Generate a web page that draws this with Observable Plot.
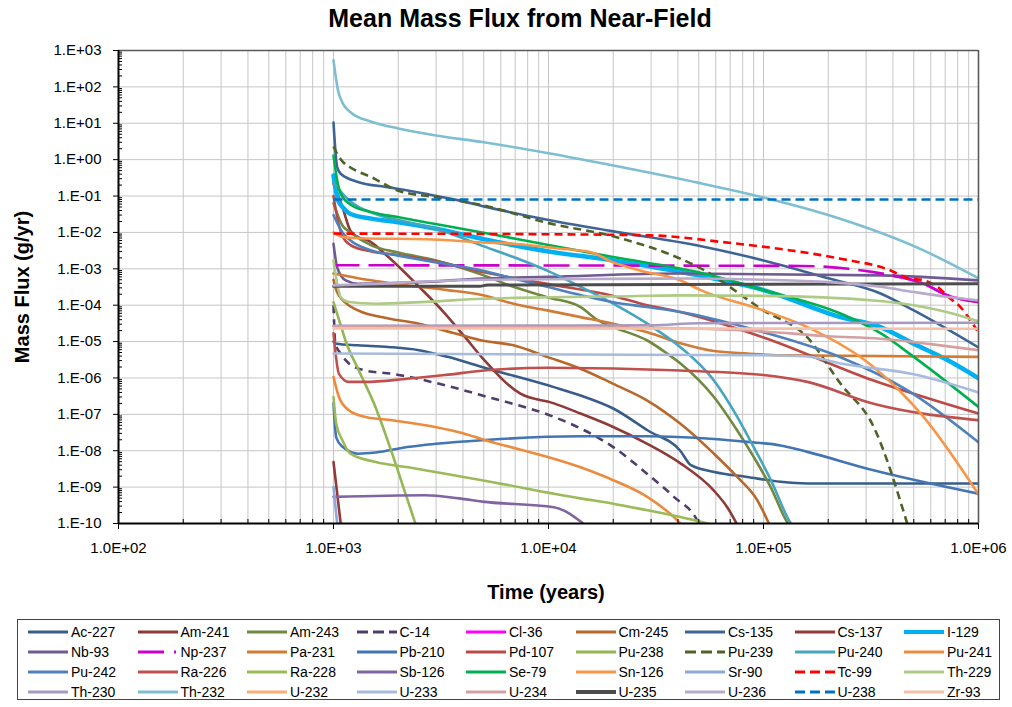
<!DOCTYPE html>
<html><head><meta charset="utf-8">
<script src="https://cdn.jsdelivr.net/npm/d3@7"></script>
<script src="https://cdn.jsdelivr.net/npm/@observablehq/plot@0.6"></script>
<style>
body{margin:0;background:#fff;}
#wrap{position:relative;width:1012px;height:707px;font-family:"Liberation Sans",Arial,sans-serif;color:#000;background:#fff;overflow:hidden;}
#chart{position:absolute;left:0;top:0;}
#title{position:absolute;left:0;top:3px;width:1040px;text-align:center;font-weight:bold;font-size:25px;line-height:30px;}
#xlab{position:absolute;left:446px;top:580px;width:200px;text-align:center;font-weight:bold;font-size:20px;line-height:24px;}
#ylab{position:absolute;left:-78px;top:275px;width:200px;text-align:center;font-weight:bold;font-size:20px;line-height:24px;transform:rotate(-90deg);}
#legend{position:absolute;left:17px;top:619px;width:983px;height:81px;box-sizing:border-box;border:1px solid #444;}
.li{position:absolute;height:20px;font-size:14px;line-height:20px;white-space:nowrap;}
.li svg{position:absolute;left:0;top:0;}
.li span{position:absolute;left:44px;top:0;}
</style></head><body>
<div id="wrap">
<div id="chart"></div>
<div id="title">Mean Mass Flux from Near-Field</div>
<div id="xlab">Time (years)</div>
<div id="ylab">Mass Flux (g/yr)</div>
<div id="legend"></div>
</div>
<script>
// ---- data: [time (years), mass flux (g/yr)] ----
const Ac227 = [[1000,1.0e-5],[1030,8.7e-6],[1300,7.9e-6],[1800,7.1e-6],[2500,5.8e-6],[3400,3.8e-6],[4900,2.0e-6],[10600,5.6e-7],[14100,3.3e-7],[20000,1.45e-7],[29000,3.6e-8],[41000,1.0e-8],[46000,4.0e-9],[59000,2.6e-9],[84000,1.9e-9],[120000,1.4e-9],[160000,1.26e-9],[1e6,1.26e-9]];
const Am241 = [[1000,0.22],[1100,0.05],[1200,0.011],[1300,7.4e-3],[1450,6e-3],[1800,2.1e-3],[2500,3.2e-4],[3300,5.9e-5],[4100,1.3e-5],[5000,3.2e-6],[7400,3.7e-7],[10600,2e-7],[14100,1.05e-7],[20000,4.5e-8],[28800,1.55e-8],[41100,4.5e-9],[58800,8e-10],[67800,2.8e-10],[75000,1e-10]];
const Am243 = [[1000,0.063],[1100,0.0155],[1200,0.01],[1500,4.4e-3],[2000,2.8e-3],[3000,1.7e-3],[5000,6.6e-4],[6870,3.2e-4],[9860,1.66e-4],[14100,8.9e-5],[17000,3.8e-5],[20000,2.5e-5],[28800,1.07e-5],[35600,4.7e-6],[41100,2.5e-6],[58800,3e-7],[75500,3.6e-8],[90000,6.8e-9],[108000,1e-9],[127000,1.26e-10],[130000,1e-10]];
const C14 = [[1000,1e-4],[1020,8.7e-6],[1080,4.7e-6],[1180,2.5e-6],[1410,1.6e-6],[1880,1.3e-6],[2680,8.5e-7],[3830,5e-7],[4920,3.3e-7],[10600,8.5e-8],[14100,4.1e-8],[20000,1.26e-8],[28800,2.3e-9],[38300,5.4e-10],[49000,1.26e-10],[50000,1e-10]];
const Cl36 = [[400000,6.5e-4],[557000,3.9e-4],[710000,1.9e-4],[1e6,1.25e-4]];
const Cm245 = [[1000,5e-4],[1030,2.6e-4],[1150,1.1e-4],[1300,7.2e-5],[1800,4.3e-5],[2500,3.1e-5],[3300,2e-5],[4900,1.07e-5],[6870,7.9e-6],[9860,3.8e-6],[14100,1.8e-6],[20000,6.9e-7],[28800,2.4e-7],[41100,5.5e-8],[58800,8.3e-9],[75500,1.9e-9],[93500,4.4e-10],[106000,1e-10]];
const Cs135 = [[1000,10.5],[1040,0.62],[1080,0.41],[1310,0.24],[1780,0.176],[2680,0.115],[3830,0.076],[5000,0.052],[10000,0.022],[20000,0.0107],[50000,4.3e-3],[100000,1.7e-3],[200000,5.5e-4],[350000,2.1e-4],[500000,7.2e-5],[1e6,6.9e-6]];
const Cs137 = [[1000,4.9e-9],[1080,1e-10]];
const I129 = [[1000,0.37],[1050,0.076],[1100,0.05],[1200,0.032],[1500,0.024],[2000,0.019],[3000,0.0126],[5000,6.5e-3],[10000,3e-3],[20000,1.7e-3],[50000,6.6e-4],[100000,2.6e-4],[228000,4.7e-5],[350000,2.5e-5],[500000,8.7e-6],[710000,3.2e-6],[1e6,9.8e-7]];
const Nb93 = [[1000,4.9e-3],[1040,1.1e-3],[1140,4.8e-4],[1300,3.9e-4],[2500,4.3e-4],[4900,5.4e-4],[10000,6e-4],[41000,7.4e-4],[350000,6.6e-4],[1e6,4.8e-4]];
const Np237 = [[1000,1.25e-3],[150000,1.2e-3],[250000,1.0e-3],[325000,8.1e-4],[400000,6.5e-4],[557000,3.9e-4],[710000,1.9e-4],[1e6,1.2e-4]];
const Pa231 = [[1000,7.4e-4],[1300,5.5e-4],[2500,3.2e-4],[3400,2.6e-4],[4900,1.9e-4],[6870,1.1e-4],[9860,7.2e-5],[14100,4.7e-5],[20000,3.1e-5],[28800,1.8e-5],[41100,9e-6],[58800,5.5e-6],[84000,4.7e-6],[120000,4.2e-6],[1e6,3.8e-6]];
const Pb210 = [[1000,2e-7],[1030,2.3e-8],[1100,1.3e-8],[1300,8.3e-9],[1570,8.9e-9],[2200,1.26e-8],[3000,1.55e-8],[4900,1.95e-8],[14100,2.5e-8],[28800,2.5e-8],[58800,2.1e-8],[84000,1.75e-8],[120000,1.4e-8],[160000,9.3e-9],[325000,2.9e-9],[1e6,6.6e-10]];
const Pd107 = [[1000,0.1],[1050,0.02],[1100,8e-3],[1200,4.5e-3],[1500,3e-3],[2000,2.4e-3],[3000,1.6e-3],[5000,8e-4],[10000,3.8e-4],[20000,1.8e-4],[27000,1.1e-4],[41000,6.5e-5],[100000,1.3e-5],[325000,8.5e-7],[1e6,1.05e-7]];
const Pu238 = [[1000,1.2e-4],[1100,2e-5],[1137,1.07e-5],[1312,1.6e-6],[1567,1.6e-7],[1875,8.3e-9],[2162,6.6e-10],[2404,1e-10]];
const Pu239 = [[1000,2.3],[1050,1.3],[1100,0.9],[1200,0.61],[1500,0.33],[2000,0.14],[3000,0.093],[5000,0.055],[10000,0.018],[20000,7.8e-3],[41000,1.9e-3],[50000,1.1e-3],[100000,7.2e-5],[160000,1.3e-5],[228000,7e-7],[325000,4.6e-8],[466000,1e-10]];
const Pu240 = [[1000,0.24],[1140,0.093],[1570,0.032],[2230,0.019],[2980,0.0126],[5090,4e-3],[6870,2.1e-3],[9860,8.9e-4],[14100,3.2e-4],[20000,1.1e-4],[28800,3.1e-5],[41100,7e-6],[58800,8.5e-7],[75500,8.5e-8],[90000,1.26e-8],[108000,1.6e-9],[131000,1.26e-10],[134000,1e-10]];
const Pu241 = [[1000,1.07e-6],[1060,3e-7],[1178,1.3e-7],[1410,8.5e-8],[1875,6.9e-8],[2680,5e-8],[3830,3.2e-8],[5090,1.95e-8],[14100,3.5e-9],[20000,1.55e-9],[28800,5.4e-10],[38300,1.5e-10],[41100,1e-10]];
const Pu242 = [[1000,0.03],[1100,0.01],[1200,6e-3],[1500,3.2e-3],[2000,2.3e-3],[3000,1.5e-3],[4900,9e-4],[6870,5.4e-4],[9860,3.2e-4],[14100,1.9e-4],[20000,1.2e-4],[28800,8.9e-5],[41100,6.5e-5],[100000,1.8e-5],[228000,3.7e-6],[466000,4.6e-7],[1e6,1.7e-8]];
const Ra226 = [[1000,1.7e-5],[1060,1.3e-6],[1180,7.8e-7],[1400,7.8e-7],[2200,9.5e-7],[3300,1.2e-6],[5000,1.6e-6],[10000,1.9e-6],[41000,1.6e-6],[100000,1.2e-6],[160000,7.8e-7],[325000,1.95e-7],[1e6,6.9e-8]];
const Ra228 = [[1000,3e-7],[1030,5.5e-8],[1100,1.95e-8],[1200,8.3e-9],[1570,4.9e-9],[2230,3.5e-9],[2980,2.6e-9],[4900,1.55e-9],[14100,4.9e-10],[20000,3.5e-10],[28800,2.3e-10],[41100,1.5e-10],[55000,1e-10]];
const Sb126 = [[1000,5.4e-10],[2680,6e-10],[3830,4.9e-10],[4920,4e-10],[10600,2.8e-10],[14500,1e-10]];
const Se79 = [[1000,1.3],[1040,0.27],[1080,0.115],[1220,0.055],[1510,0.036],[2010,0.026],[2980,0.017],[4920,0.010],[10000,4.5e-3],[20000,2.1e-3],[50000,8e-4],[100000,2.6e-4],[228000,5.9e-5],[350000,1.7e-5],[500000,3.8e-6],[1e6,1.6e-7]];
const Sn126 = [[1000,1.0e-2],[1100,7.5e-3],[1300,6.9e-3],[2700,6.5e-3],[5000,5.3e-3],[6870,4.9e-3],[11700,3.5e-3],[15600,2.9e-3],[20000,1.5e-3],[26800,8.9e-4],[41100,4.8e-4],[51000,2.6e-4],[100000,7.2e-5],[160000,2.5e-5],[325000,2e-6],[555000,8.5e-8],[1e6,6.3e-10]];
const Sr90 = [[1000,1e-9],[1040,1e-10]];
const Tc99 = [[1000,9.3e-3],[10000,8.9e-3],[30000,8.3e-3],[65000,5.4e-3],[134000,3.2e-3],[228000,1.9e-3],[390000,9e-4],[466000,5.6e-4],[557000,4.8e-4],[643000,3.2e-4],[741000,1.5e-4],[825000,8.9e-5],[885000,5.2e-5],[986000,2e-5]];
const Th229 = [[1000,1.7e-3],[1040,3.9e-4],[1080,1.65e-4],[1180,1.23e-4],[1570,1.1e-4],[2680,1.23e-4],[4920,1.5e-4],[10000,1.66e-4],[20000,1.74e-4],[41000,1.86e-4],[100000,1.8e-4],[325000,1.35e-4],[500000,1e-4],[710000,6.5e-5],[1e6,3.6e-5]];
const Th230 = [[1000,2.7e-5],[30000,2.8e-5],[50000,3.2e-5],[1e6,3.3e-5]];
const Th232 = [[1000,540],[1050,79],[1100,37],[1200,20],[1500,11],[2000,7.2],[3000,4.6],[5000,3.0],[10000,1.5],[20000,0.69],[50000,0.23],[100000,0.091],[200000,0.030],[555000,3.2e-3],[1e6,5.5e-4]];
const U232 = [];
const U233 = [[1000,4.7e-6],[100000,4.2e-6],[160000,3.9e-6],[228000,2.5e-6],[500000,1.26e-6],[1e6,4e-7]];
const U234 = [[1000,2.6e-5],[30000,2.4e-5],[100000,1.9e-5],[200000,1.4e-5],[350000,1.2e-5],[600000,8.5e-6],[1e6,5.8e-6]];
const U235 = [[1000,3.3e-4],[4800,3.3e-4],[5200,3.6e-4],[1e6,3.9e-4]];
const U236 = [[1000,3.5e-4],[1300,3.7e-4],[4900,5e-4],[20000,5.3e-4],[41000,5.4e-4],[100000,5e-4],[200000,4.3e-4],[350000,3.2e-4],[500000,2.3e-4],[710000,1.7e-4],[1e6,1.35e-4]];
const U238 = [[1000,0.08],[1e6,0.08]];
const Zr93 = [[1000,2.3e-5],[1e6,2.25e-5]];

const xTicks = [1e2, 1e3, 1e4, 1e5, 1e6];
const yTicks = [1e-10,1e-9,1e-8,1e-7,1e-6,1e-5,1e-4,1e-3,1e-2,1e-1,1e0,1e1,1e2,1e3];

// ---- series (name, data, style) ----
const series = [
  {name:"Ac-227", data:Ac227, color:"#385D8A"},
  {name:"Am-241", data:Am241, color:"#8E3B38"},
  {name:"Am-243", data:Am243, color:"#71893F"},
  {name:"C-14",   data:C14,   color:"#4F3D6E", dash:"8,6", ldash:"11,5"},
  {name:"Cl-36",  data:Cl36,  color:"#FF00FF"},
  {name:"Cm-245", data:Cm245, color:"#B8682A"},
  {name:"Cs-135", data:Cs135, color:"#3E6496"},
  {name:"Cs-137", data:Cs137, color:"#93393A"},
  {name:"I-129",  data:I129,  color:"#00B0F0", width:4.5},
  {name:"Nb-93",  data:Nb93,  color:"#6F5A92"},
  {name:"Np-237", data:Np237, color:"#CC00CC", dash:"26,9", ldash:"26,10,2,10"},
  {name:"Pa-231", data:Pa231, color:"#D27B35"},
  {name:"Pb-210", data:Pb210, color:"#4374B3"},
  {name:"Pd-107", data:Pd107, color:"#BB4A47"},
  {name:"Pu-238", data:Pu238, color:"#94B653"},
  {name:"Pu-239", data:Pu239, color:"#4F6228", dash:"8,5", ldash:"11,5"},
  {name:"Pu-240", data:Pu240, color:"#45A5C0"},
  {name:"Pu-241", data:Pu241, color:"#EE8A3C"},
  {name:"Pu-242", data:Pu242, color:"#4F81BD"},
  {name:"Ra-226", data:Ra226, color:"#C0504D"},
  {name:"Ra-228", data:Ra228, color:"#9BBB59"},
  {name:"Sb-126", data:Sb126, color:"#8064A2"},
  {name:"Se-79",  data:Se79,  color:"#00B050"},
  {name:"Sn-126", data:Sn126, color:"#F79646"},
  {name:"Sr-90",  data:Sr90,  color:"#8EA9D6"},
  {name:"Tc-99",  data:Tc99,  color:"#FF0000", dash:"8,5", ldash:"10,5"},
  {name:"Th-229", data:Th229, color:"#AECB86"},
  {name:"Th-230", data:Th230, color:"#A899C2"},
  {name:"Th-232", data:Th232, color:"#7EBED3"},
  {name:"U-232",  data:U232,  color:"#F9AD77"},
  {name:"U-233",  data:U233,  color:"#A7BCDD"},
  {name:"U-234",  data:U234,  color:"#D6A0A0"},
  {name:"U-235",  data:U235,  color:"#4D4D4D", width:3},
  {name:"U-236",  data:U236,  color:"#B7AACB"},
  {name:"U-238",  data:U238,  color:"#0070C0", dash:"9,5", ldash:"10,5"},
  {name:"Zr-93",  data:Zr93,  color:"#F5C0A8"}
];

// ---- grid helpers ----
const decadesX = [1e3, 1e4, 1e5];
const minorX = d3.range(2, 6).flatMap(e => d3.range(2, 10).map(m => m * 10 ** e));
const gridY = yTicks.slice(1, -1);
const minorY = d3.range(-10, 3).flatMap(e => d3.range(2, 10).map(m => m * 10 ** e));

const fmtX = d => "1.0E+" + String(Math.round(Math.log10(d))).padStart(2, "0");
const fmtY = d => { const e = Math.round(Math.log10(d)); return "1.E" + (e < 0 ? "-" : "+") + String(Math.abs(e)).padStart(2, "0"); };

const W = 1012, H = 610, mL = 118, mR = 34, mT = 50, mB = 87;
const plotH = H - mT - mB, plotW = W - mL - mR;

const lineMarks = series.filter(s => s.data.length).map(s =>
  Plot.line(s.data, {x: d => d[0], y: d => d[1], stroke: s.color, strokeWidth: s.width || 2.6,
    strokeDasharray: s.dash || null, curve: "monotone-x", clip: true, strokeLinejoin: "round", strokeLinecap: s.dash ? "butt" : "round"})
);

const chart = Plot.plot({
  width: W, height: H,
  marginLeft: mL, marginRight: mR, marginTop: mT, marginBottom: mB,
  style: {fontFamily: '"Liberation Sans", Arial, sans-serif', fontSize: "15px", background: "transparent", color: "#000"},
  x: {type: "log", domain: [1e2, 1e6], axis: null},
  y: {type: "log", domain: [1e-10, 1e3], axis: null},
  marks: [
    Plot.ruleX([...minorX, ...decadesX], {stroke: "#c6c6c6", strokeWidth: 1}),
    Plot.ruleY(gridY, {stroke: "#c6c6c6", strokeWidth: 1}),
    ...lineMarks,
    Plot.ruleY([1e3], {stroke: "#5a5a5a", strokeWidth: 1.6}),
    Plot.ruleX([1e6], {stroke: "#5a5a5a", strokeWidth: 1.6}),
    Plot.ruleX(minorX, {stroke: "#000", strokeWidth: 1, insetTop: plotH - 4}),
    Plot.ruleY(minorY, {stroke: "#000", strokeWidth: 1, insetRight: plotW - 4}),
    Plot.ruleY([1e-10], {stroke: "#000", strokeWidth: 2}),
    Plot.ruleX([1e2], {stroke: "#000", strokeWidth: 2}),
    Plot.axisX({ticks: xTicks, tickFormat: fmtX, tickSize: 6, tickPadding: 13, label: null, anchor: "bottom"}),
    Plot.axisY({ticks: yTicks, tickFormat: fmtY, tickSize: 5, tickPadding: 12, label: null, anchor: "left"})
  ]
});
document.getElementById("chart").appendChild(chart);

// ---- legend ----
const legend = document.getElementById("legend");
series.forEach((s, i) => {
  const col = i % 9, row = Math.floor(i / 9);
  const div = document.createElement("div");
  div.className = "li";
  div.style.left = (9 + col * 109.5) + "px";
  div.style.top = (2 + row * 20) + "px";
  const dash = s.ldash ? ` stroke-dasharray="${s.ldash}"` : "";
  div.innerHTML = `<svg width="42" height="20"><line x1="1" y1="10" x2="41" y2="10" stroke="${s.color}" stroke-width="${s.width ? 4 : 3}"${dash}/></svg><span>${s.name}</span>`;
  legend.appendChild(div);
});
</script>
</body></html>
